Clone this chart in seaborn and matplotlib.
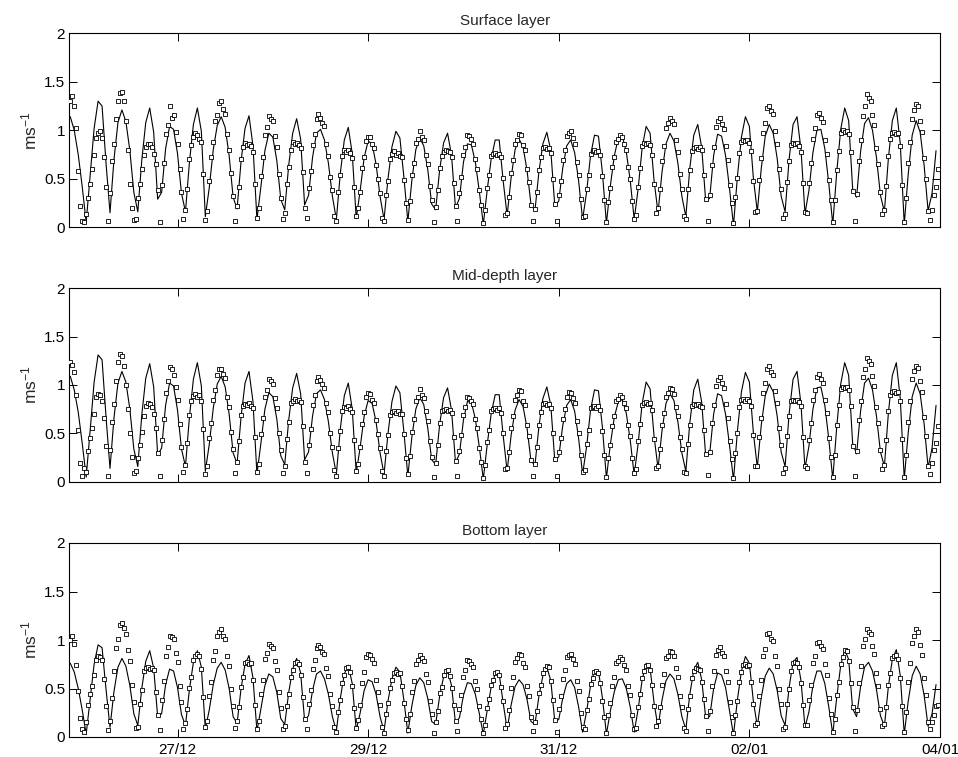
import numpy as np
import pandas as pd
import matplotlib
matplotlib.use("Agg")
import matplotlib.pyplot as plt
import matplotlib.dates as mdates
import seaborn as sns

# Current speed in cm/s: hourly model output (line) and half-hourly observations (squares)
surface_model = [
    114, 100, 75, 42, 5,
    53, 102, 130, 125, 66,
    15, 70, 108, 121, 109, 79, 36,
    16, 69, 108, 123, 98, 29,
    36, 81, 104, 101, 76, 35,
    16, 67, 106, 123, 99, 11,
    41, 80, 105, 114, 103, 74, 31,
    19, 68, 102, 115, 84, 8,
    42, 79, 97, 93, 69, 29,
    18, 64, 97, 112, 91, 23,
    33, 72, 97, 101, 90, 66, 32,
    8, 56, 90, 103, 76, 9,
    38, 72, 89, 86, 65, 32,
    8, 50, 83, 99, 92, 52,
    6, 48, 80, 92, 84, 60, 24,
    18, 59, 87, 97, 74, 20,
    30, 67, 86, 85, 67, 37, 3,
    39, 71, 90, 90, 48,
    12, 51, 80, 91, 83, 59, 24,
    17, 57, 86, 98, 79, 22,
    27, 61, 84, 90, 77, 48, 8,
    36, 74, 95, 94, 56,
    4, 43, 74, 92, 94, 78, 48, 8,
    40, 82, 104, 97, 48,
    15, 57, 86, 97, 89, 66, 32,
    11, 61, 95, 106, 82, 27,
    30, 74, 96, 94, 74, 40,
    2, 53, 93, 114, 104, 51,
    16, 61, 94, 106, 97, 71, 32,
    16, 70, 106, 114, 80, 14,
    38, 77, 100, 101, 81, 45,
    3, 57, 101, 123, 110, 40,
    31, 78, 107, 113, 100, 72, 33,
    16, 71, 110, 123, 86, 3,
    55, 95, 110, 98, 64, 17,
    35, 79,
]
surface_obs = [
    130, 135, 125, 102, 58, 22, 6, 5, 14,
    30, 45, 60, 75, 92, 97, 99, 92, 72, 42, 6,
    35, 68, 86, 112, 130, 138, 139, 130, 110, 80, 45, 20, 8, 9,
    30, 45, 60, 75, 83, 86, 86, 83, 76, 65, 38,
    5, 44, 66, 96, 105, 125, 113, 116, 98, 86, 60, 36, 9,
    18, 40, 70, 85, 93, 97, 95, 91, 88, 55, 8,
    17, 48, 72, 88, 110, 116, 128, 130, 122, 117, 96, 80, 56, 32, 6,
    22, 42, 70, 83, 87, 85, 86, 84, 78, 45, 10,
    20, 53, 72, 95, 103, 115, 112, 110, 94, 83, 55, 30, 9,
    15, 45, 62, 80, 88, 86, 87, 85, 82, 57, 20,
    10, 41, 58, 85, 96, 112, 117, 113, 108, 104, 86, 73, 52, 38, 12,
    6, 36, 54, 74, 80, 78, 80, 77, 71, 42, 12,
    20, 36, 61, 72, 89, 93, 93, 86, 82, 64, 50, 35, 10,
    6, 33, 48, 70, 76, 79, 75, 77, 74, 72, 49, 25,
    8, 27, 54, 66, 87, 91, 99, 93, 90, 75, 65, 43, 28, 5,
    21, 38, 61, 73, 78, 80, 79, 78, 72, 46, 22,
    7, 35, 52, 75, 83, 95, 94, 91, 86, 70, 60, 38, 23, 4,
    18, 41, 54, 73, 76, 77, 75, 76, 72, 51, 13,
    15, 31, 56, 69, 86, 90, 96, 95, 85, 80, 60, 47, 23, 6,
    19, 36, 59, 72, 82, 83, 81, 82, 77, 50, 24,
    6, 33, 48, 69, 80, 94, 97, 99, 92, 86, 67, 54, 29, 11,
    12, 39, 54, 76, 79, 80, 78, 79, 75, 53, 28,
    5, 26, 41, 62, 72, 88, 91, 95, 93, 86, 80, 62, 50, 27, 9,
    13, 42, 61, 84, 87, 86, 87, 85, 75, 45, 15,
    20, 40, 68, 84, 102, 108, 113, 110, 106, 90, 78, 55, 39, 12,
    9, 39, 59, 79, 82, 83, 81, 83, 80, 54, 29,
    7, 33, 64, 83, 103, 110, 113, 107, 101, 84, 69, 44, 25,
    4, 31, 51, 77, 88, 90, 89, 90, 87, 79, 48, 16,
    17, 49, 71, 97, 108, 123, 125, 120, 117, 99, 86, 60, 40, 10,
    14, 47, 68, 85, 87, 86, 87, 84, 78, 46, 16,
    15, 46, 66, 91, 102, 116, 118, 113, 109, 90, 76, 49, 28,
    5, 28, 59, 79, 97, 100, 98, 99, 96, 78, 37,
    6, 34, 68, 90, 115, 125, 137, 133, 130, 116, 105, 82, 65, 36, 14,
    18, 43, 73, 91, 97, 98, 96, 97, 84, 44, 5,
    30, 66, 88, 112, 121, 127, 125, 110, 98, 71, 50, 17,
    8, 18, 33, 42, 60,
]

mid_model = [
    109, 95, 72, 40, 5,
    53, 103, 131, 126, 67,
    14, 66, 102, 114, 103, 75, 34,
    16, 69, 107, 122, 98, 28,
    35, 79, 102, 99, 74, 34,
    16, 67, 106, 123, 99, 11,
    39, 76, 101, 109, 98, 70, 30,
    19, 67, 102, 114, 83, 8,
    40, 75, 92, 88, 65, 27,
    18, 64, 97, 112, 91, 23,
    31, 68, 91, 95, 85, 62, 30,
    8, 55, 89, 102, 75, 9,
    36, 68, 84, 81, 62, 30,
    8, 50, 83, 99, 92, 52,
    6, 46, 75, 87, 80, 56, 23,
    18, 59, 87, 97, 74, 20,
    29, 64, 83, 82, 65, 36, 3,
    39, 71, 90, 90, 48,
    11, 48, 74, 85, 78, 56, 22,
    17, 57, 86, 98, 79, 22,
    26, 58, 79, 85, 73, 45, 8,
    36, 74, 95, 94, 56,
    4, 39, 67, 83, 85, 71, 43, 7,
    40, 81, 103, 96, 47,
    14, 53, 81, 91, 84, 62, 30,
    11, 61, 95, 106, 82, 27,
    29, 70, 91, 89, 70, 38,
    2, 53, 93, 113, 103, 51,
    15, 59, 89, 101, 93, 68, 31,
    16, 70, 106, 114, 80, 14,
    37, 75, 97, 98, 79, 44,
    3, 57, 101, 123, 110, 40,
    29, 73, 102, 107, 95, 68, 31,
    16, 71, 110, 123, 86, 3,
    51, 88, 102, 91, 60, 15,
    35, 79,
]
mid_obs = [
    124, 121, 113, 90, 54, 20, 6, 14, 10,
    32, 45, 56, 70, 88, 91, 90, 84, 66, 37, 6,
    33, 62, 80, 104, 124, 132, 130, 120, 100, 75, 50, 26, 9, 11,
    25, 38, 52, 68, 78, 81, 80, 77, 70, 56, 30,
    6, 43, 65, 92, 104, 119, 116, 110, 98, 85, 60, 36, 10,
    18, 40, 69, 84, 89, 91, 88, 90, 84, 55, 8,
    16, 45, 61, 85, 95, 110, 116, 117, 111, 107, 88, 77, 52, 34, 9,
    21, 42, 69, 78, 80, 79, 81, 78, 76, 46, 10,
    19, 49, 66, 88, 95, 106, 104, 101, 87, 76, 51, 33, 9,
    16, 44, 62, 81, 84, 86, 84, 85, 82, 58, 21,
    9, 38, 55, 79, 90, 104, 108, 105, 101, 97, 81, 72, 50, 36, 12,
    6, 35, 53, 73, 77, 76, 78, 75, 72, 43, 11,
    19, 36, 60, 72, 88, 92, 91, 85, 81, 64, 49, 35, 11,
    6, 32, 48, 69, 72, 73, 71, 73, 70, 70, 49, 25,
    8, 27, 52, 65, 84, 88, 96, 90, 87, 73, 63, 42, 26, 5,
    20, 38, 61, 73, 74, 75, 73, 74, 71, 46, 22,
    6, 32, 48, 69, 77, 88, 87, 84, 80, 65, 56, 35, 21, 4,
    18, 41, 54, 73, 75, 76, 74, 76, 71, 50, 13,
    14, 31, 56, 68, 85, 90, 95, 94, 84, 79, 59, 47, 23, 6,
    19, 36, 59, 72, 80, 81, 79, 80, 76, 51, 24,
    6, 31, 45, 65, 75, 88, 93, 92, 87, 81, 63, 51, 28, 10,
    12, 39, 54, 76, 77, 78, 76, 78, 74, 53, 28,
    5, 25, 38, 58, 68, 83, 86, 90, 88, 81, 76, 59, 47, 25, 9,
    13, 42, 60, 79, 81, 82, 80, 81, 74, 44, 14,
    17, 34, 59, 71, 88, 92, 97, 96, 91, 77, 68, 46, 34, 10,
    9, 39, 59, 78, 80, 79, 80, 78, 77, 54, 29,
    7, 31, 61, 79, 99, 105, 108, 102, 97, 80, 66, 42, 24,
    4, 30, 51, 77, 85, 86, 84, 86, 83, 78, 48, 16,
    16, 46, 66, 92, 102, 117, 120, 113, 110, 94, 81, 56, 38, 9,
    14, 47, 68, 83, 85, 84, 85, 82, 78, 46, 16,
    14, 43, 61, 85, 95, 108, 111, 106, 102, 85, 71, 45, 26,
    5, 28, 59, 79, 96, 98, 97, 98, 95, 78, 37,
    6, 32, 64, 84, 108, 117, 128, 125, 122, 109, 99, 77, 61, 33, 13,
    18, 43, 73, 90, 93, 94, 92, 93, 84, 44, 5,
    28, 62, 83, 106, 114, 120, 118, 104, 93, 67, 47, 16,
    8, 20, 33, 40, 58,
]

bottom_model = [
    76, 67, 50, 28, 3,
    39, 75, 95, 92, 49,
    10, 47, 72, 81, 73, 53, 24,
    12, 50, 78, 89, 71, 21,
    24, 54, 70, 68, 51, 23,
    12, 49, 77, 89, 72, 8,
    28, 54, 71, 77, 69, 50, 21,
    14, 50, 75, 84, 61, 6,
    29, 53, 65, 62, 46, 19,
    13, 46, 70, 81, 66, 17,
    22, 48, 65, 68, 60, 44, 21,
    6, 40, 65, 74, 55, 7,
    25, 48, 59, 57, 44, 21,
    6, 37, 60, 72, 67, 38,
    4, 32, 53, 61, 56, 40, 16,
    13, 42, 62, 69, 53, 14,
    20, 43, 56, 55, 44, 24, 3,
    28, 52, 65, 65, 35,
    8, 33, 52, 59, 54, 39, 16,
    13, 42, 63, 72, 58, 16,
    18, 40, 55, 59, 51, 31, 5,
    26, 53, 69, 68, 40,
    3, 27, 47, 59, 60, 50, 31, 5,
    29, 59, 76, 71, 35,
    10, 38, 58, 65, 60, 44, 21,
    8, 44, 69, 77, 59, 20,
    21, 50, 66, 64, 51, 27,
    2, 39, 68, 83, 76, 37,
    11, 41, 63, 71, 65, 48, 22,
    12, 51, 77, 82, 58, 10,
    26, 53, 68, 68, 55, 31,
    3, 41, 74, 90, 80, 29,
    21, 52, 72, 77, 68, 49, 22,
    11, 52, 80, 90, 63, 3,
    37, 63, 73, 65, 43, 11,
    24, 54,
]
bottom_obs = [
    100, 104, 96, 74, 47, 20, 8, 5, 15,
    33, 44, 53, 64, 79, 83, 82, 79, 60, 32, 7,
    16, 40, 68, 92, 101, 115, 118, 112, 106, 90, 78, 54, 36, 9,
    10, 34, 48, 68, 71, 72, 70, 71, 69, 46, 23,
    7, 38, 58, 83, 93, 104, 103, 101, 87, 77, 53, 36, 8,
    14, 29, 51, 62, 79, 84, 86, 83, 70, 41, 10,
    16, 42, 57, 79, 89, 104, 108, 111, 104, 101, 84, 73, 49, 32, 9,
    16, 31, 52, 62, 76, 77, 75, 76, 59, 33, 8,
    17, 44, 59, 80, 87, 96, 94, 92, 78, 69, 46, 30, 8,
    11, 32, 44, 62, 69, 76, 77, 75, 64, 41, 19,
    8, 34, 48, 70, 79, 92, 95, 93, 88, 86, 71, 63, 44, 32, 10,
    5, 26, 38, 56, 64, 71, 72, 67, 53, 30, 9,
    18, 33, 56, 67, 82, 86, 85, 80, 76, 59, 46, 33, 10,
    4, 24, 35, 51, 59, 66, 67, 65, 66, 53, 35, 19,
    7, 24, 46, 58, 75, 79, 85, 81, 78, 65, 57, 37, 24, 4,
    15, 27, 45, 52, 64, 68, 69, 63, 51, 33, 16,
    6, 29, 43, 62, 69, 79, 78, 75, 72, 58, 50, 32, 19, 4,
    12, 30, 39, 54, 59, 66, 67, 64, 52, 37, 9,
    13, 28, 51, 62, 77, 81, 86, 85, 76, 72, 53, 42, 21, 6,
    15, 27, 45, 54, 66, 70, 73, 72, 58, 38, 18,
    5, 29, 42, 60, 69, 82, 85, 86, 80, 75, 58, 47, 25, 10,
    8, 28, 39, 55, 61, 67, 68, 66, 56, 37, 21,
    4, 23, 35, 53, 62, 76, 78, 82, 80, 74, 69, 53, 43, 23, 8,
    9, 31, 44, 61, 68, 73, 74, 69, 54, 32, 11,
    16, 31, 54, 65, 81, 84, 89, 88, 84, 71, 62, 42, 31, 9,
    6, 29, 42, 61, 68, 71, 70, 69, 57, 39, 22,
    6, 27, 53, 68, 85, 90, 93, 87, 84, 68, 57, 36, 21,
    4, 23, 37, 57, 67, 74, 75, 73, 74, 57, 34, 12,
    14, 42, 59, 83, 91, 106, 107, 101, 99, 84, 73, 50, 34, 8,
    10, 34, 49, 68, 76, 77, 76, 72, 56, 33, 12,
    12, 38, 54, 76, 84, 97, 98, 94, 91, 75, 64, 40, 24,
    5, 19, 43, 57, 75, 82, 90, 89, 78, 56, 31,
    6, 28, 56, 73, 94, 101, 111, 108, 106, 94, 86, 66, 53, 29, 11,
    13, 31, 54, 66, 81, 84, 85, 80, 61, 32, 5,
    26, 57, 76, 97, 104, 111, 108, 95, 85, 61, 43, 15,
    8, 15, 23, 32, 33,
]

layer_titles = ["Surface layer", "Mid-depth layer", "Bottom layer"]
date_ticks = ["2003-12-27", "2003-12-29", "2003-12-31", "2004-01-02", "2004-01-04"]
y_ticks = [0, 0.5, 1, 1.5, 2]
y_ticklabels = ["0", "0.5", "1", "1.5", "2"]

model_time = pd.date_range("2003-12-25 21:00", periods=len(surface_model), freq="h")
obs_time = pd.date_range("2003-12-25 21:00", periods=len(surface_obs), freq="30min")

sns.set_style("ticks")
plt.rcParams["font.family"] = ["Liberation Sans", "DejaVu Sans"]
plt.rcParams["mathtext.default"] = "regular"

W, H = 958, 757
fig = plt.figure(figsize=(W / 100, H / 100), dpi=100)

ax_left, ax_right = 69.3, 940.0
ax_height = 194.0
ax_tops = [33.3, 288.0, 543.0]

layers = [
    (surface_model, surface_obs),
    (mid_model, mid_obs),
    (bottom_model, bottom_obs),
]

for i, ((model, obs), title, top) in enumerate(zip(layers, layer_titles, ax_tops)):
    ax = fig.add_axes([
        ax_left / W,
        1 - (top + ax_height) / H,
        (ax_right - ax_left) / W,
        ax_height / H,
    ])
    model_df = pd.DataFrame({"time": model_time, "speed": np.asarray(model) / 100.0})
    obs_df = pd.DataFrame({"time": obs_time, "speed": np.asarray(obs) / 100.0})

    sns.lineplot(data=model_df, x="time", y="speed", ax=ax, color="black",
                 linewidth=0.8, estimator=None, errorbar=None, zorder=2)
    sns.scatterplot(data=obs_df, x="time", y="speed", ax=ax, marker="s", s=11,
                    facecolor="white", edgecolor="black", linewidth=0.6, zorder=3)

    ax.set_xlim(pd.Timestamp("2003-12-25 20:45"), pd.Timestamp("2004-01-04 00:00"))
    ax.set_ylim(0, 2)
    ax.set_yticks(y_ticks)
    ax.set_yticklabels(y_ticklabels)
    ax.set_xticks(pd.to_datetime(date_ticks))
    ax.xaxis.set_major_formatter(mdates.DateFormatter("%d/%m"))
    ax.tick_params(direction="in", length=5.5, width=0.7, top=True, right=True,
                   labelsize=11, colors="black")
    ax.tick_params(axis="y", pad=3)
    ax.tick_params(axis="x", pad=4)
    for sp in ax.spines.values():
        sp.set_visible(True)
        sp.set_linewidth(0.8)
        sp.set_color("black")
    ax.set_title(title, fontsize=11, pad=6)
    ax.set_ylabel("ms$^{-1}$", fontsize=12.5, labelpad=3)
    ax.set_xlabel("")
    if i < 2:
        ax.tick_params(axis="x", labelbottom=False)

fig.savefig("out.png", dpi=100)
